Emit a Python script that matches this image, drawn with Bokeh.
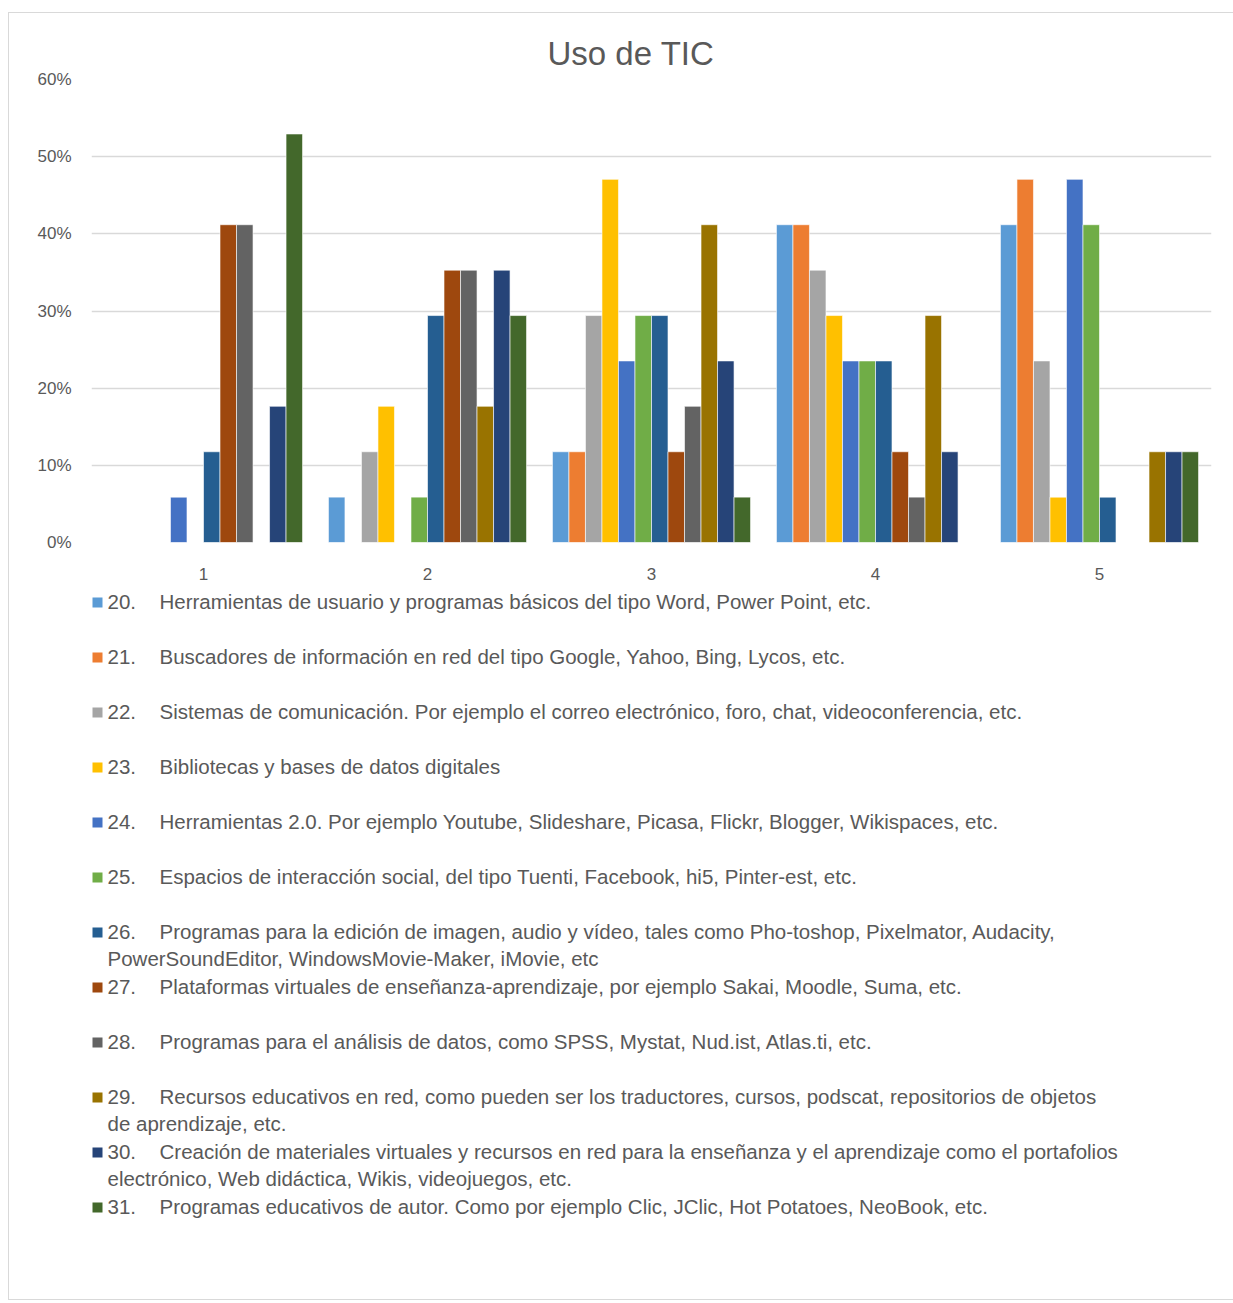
from bokeh.plotting import figure
from bokeh.models import FactorRange, Range1d, NumeralTickFormatter, FixedTicker
from bokeh.transform import dodge
from bokeh.layouts import column
from bokeh.embed import file_html
from bokeh.resources import INLINE
from bokeh.core.properties import value

categories = ["1", "2", "3", "4", "5"]

series_nums = ["20.", "21.", "22.", "23.", "24.", "25.", "26.", "27.", "28.", "29.", "30.", "31."]
series_labels = [
    "Herramientas de usuario y programas básicos del tipo Word, Power Point, etc.",
    "Buscadores de información en red del tipo Google, Yahoo, Bing, Lycos, etc.",
    "Sistemas de comunicación. Por ejemplo el correo electrónico, foro, chat, videoconferencia, etc.",
    "Bibliotecas y bases de datos digitales",
    "Herramientas 2.0. Por ejemplo Youtube, Slideshare, Picasa, Flickr, Blogger, Wikispaces, etc.",
    "Espacios de interacción social, del tipo Tuenti, Facebook, hi5, Pinter-est, etc.",
    "Programas para la edición de imagen, audio y vídeo, tales como Pho-toshop, Pixelmator, Audacity,\nPowerSoundEditor, WindowsMovie-Maker, iMovie, etc",
    "Plataformas virtuales de enseñanza-aprendizaje, por ejemplo Sakai, Moodle, Suma, etc.",
    "Programas para el análisis de datos, como SPSS, Mystat, Nud.ist, Atlas.ti, etc.",
    "Recursos educativos en red, como pueden ser los traductores, cursos, podscat, repositorios de objetos\nde aprendizaje, etc.",
    "Creación de materiales virtuales y recursos en red para la enseñanza y el aprendizaje como el portafolios\nelectrónico, Web didáctica, Wikis, videojuegos, etc.",
    "Programas educativos de autor. Como por ejemplo Clic, JClic, Hot Potatoes, NeoBook, etc.",
]
series_colors = ["#5B9BD5", "#ED7D31", "#A5A5A5", "#FFC000", "#4472C4", "#70AD47",
                 "#255E91", "#9E480E", "#636363", "#997300", "#264478", "#43682B"]

# values per series for categories 1..5 (fractions)
s20 = [0.0, 0.0588, 0.1176, 0.4118, 0.4118]
s21 = [0.0, 0.0, 0.1176, 0.4118, 0.4706]
s22 = [0.0, 0.1176, 0.2941, 0.3529, 0.2353]
s23 = [0.0, 0.1765, 0.4706, 0.2941, 0.0588]
s24 = [0.0588, 0.0, 0.2353, 0.2353, 0.4706]
s25 = [0.0, 0.0588, 0.2941, 0.2353, 0.4118]
s26 = [0.1176, 0.2941, 0.2941, 0.2353, 0.0588]
s27 = [0.4118, 0.3529, 0.1176, 0.1176, 0.0]
s28 = [0.4118, 0.3529, 0.1765, 0.0588, 0.0]
s29 = [0.0, 0.1765, 0.4118, 0.2941, 0.1176]
s30 = [0.1765, 0.3529, 0.2353, 0.1176, 0.1176]
s31 = [0.5294, 0.2941, 0.0588, 0.0, 0.1176]
series_values = [s20, s21, s22, s23, s24, s25, s26, s27, s28, s29, s30, s31]

FONT = "Liberation Sans"
TXT = "#595959"

OX, OY = 8, 12          # layout origin on page
W = 1224
H1 = 574
FL, FR = 82, 1202       # frame left/right inside layout

p = figure(width=W, height=H1, x_range=FactorRange(*categories, range_padding=0),
           y_range=Range1d(0, 0.6), output_backend="svg", toolbar_location=None,
           min_border_left=FL, min_border_right=W - FR, min_border_top=66, min_border_bottom=45)
p.title.text = "Uso de TIC"
p.title.align = "left"
p.title.text_font = FONT
p.title.text_font_size = "33px"
p.title.text_font_style = "normal"
p.title.text_color = TXT
p.title.offset = 456
p.title.standoff = 16

n = len(series_values)
bw = 0.0737
for i, vals in enumerate(series_values):
    off = (i - (n - 1) / 2) * bw
    src = {"cat": categories, "v": vals}
    p.vbar(x=dodge("cat", off, range=p.x_range), top="v", width=bw, source=src,
           fill_color=series_colors[i], line_color="white", line_width=0.6)

p.outline_line_color = None
p.xgrid.grid_line_color = None
p.ygrid.grid_line_color = "#D9D9D9"
p.ygrid.grid_line_width = 1.5
p.yaxis.ticker = FixedTicker(ticks=[0, 0.1, 0.2, 0.3, 0.4, 0.5, 0.6])
p.yaxis.formatter = NumeralTickFormatter(format="0%")
for ax in (p.xaxis, p.yaxis):
    ax.axis_line_color = None
    ax.major_tick_line_color = None
    ax.minor_tick_line_color = None
    ax.major_label_text_font = FONT
    ax.major_label_text_font_size = "17px"
    ax.major_label_text_color = TXT
p.yaxis.major_label_standoff = 14
p.xaxis.major_label_standoff = 19
p.background_fill_color = "white"
p.border_fill_color = None

# legend figure (page coordinates)
LH = 712
top_page = OY + H1
lg = figure(width=W, height=LH, x_range=Range1d(OX + FL, OX + FR),
            y_range=Range1d(top_page + LH, top_page),
            output_backend="svg", toolbar_location=None,
            min_border_left=FL, min_border_right=W - FR, min_border_top=0, min_border_bottom=0)
lg.axis.visible = False
lg.grid.visible = False
lg.outline_line_color = None
lg.border_fill_color = None

row_y, first_lines, second_lines, second_y = [], [], [], []
y0 = 600
step = 55
for i, lab in enumerate(series_labels):
    y = y0 + i * step
    row_y.append(y)
    parts = lab.split("\n")
    first_lines.append(parts[0])
    if len(parts) > 1:
        second_lines.append(parts[1])
        second_y.append(y + 27)

lg.rect(x=[96] * n, y=[y + 1 for y in row_y], width=10, height=10, fill_color=series_colors, line_color=None)
lg.text(x=[106] * n, y=row_y, text=series_nums, text_font=value(FONT), text_font_size="20.5px",
        text_color=TXT, text_baseline="middle", text_align="left")
lg.text(x=[158] * n, y=row_y, text=first_lines, text_font=value(FONT), text_font_size="20.5px",
        text_color=TXT, text_baseline="middle", text_align="left")
lg.text(x=[106] * len(second_lines), y=second_y, text=second_lines, text_font=value(FONT),
        text_font_size="20.5px", text_color=TXT, text_baseline="middle", text_align="left")

layout = column(p, lg, spacing=0,
                styles={"border": "1px solid #D9D9D9", "margin-left": f"{OX}px", "margin-top": f"{OY}px"})
open("out.html", "w").write(file_html(layout, INLINE))
